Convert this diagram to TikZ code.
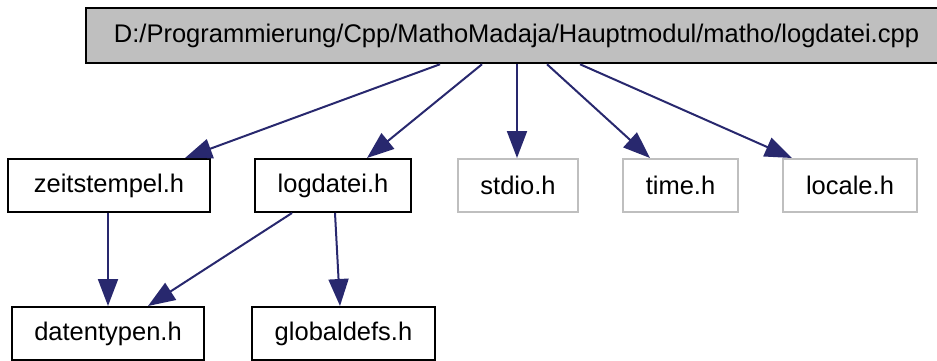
\documentclass[tikz,border=0pt]{standalone}
\usepackage{fontspec}
\setmainfont{Liberation Sans}
\usepackage{tikz}
\usetikzlibrary{arrows.meta,positioning}
\definecolor{depblue}{RGB}{40,40,110}
\definecolor{boxgray}{RGB}{191,191,191}

\begin{document}
\begin{tikzpicture}[x=1pt, y=-1pt,
  file/.style={draw=black, line width=2pt, inner sep=0pt, minimum height=53pt,
               font=\fontsize{25.5}{30}\selectfont},
  sysfile/.style={file, draw=boxgray},
  main/.style={file, fill=boxgray, line width=2.5pt, minimum height=55pt},
  dep/.style={-{Triangle[length=27pt, width=20pt]}, line width=2pt, depblue}]
  \useasboundingbox (0,0) rectangle (937,360);
  \clip (0,0) rectangle (937,360);
  % source file
  \node[main, minimum width=861pt] (cpp) at (516.5,35.5)
    {D:/Programmierung/Cpp/MathoMadaja/Hauptmodul/matho/logdatei.cpp};
  % direct includes
  \node[file, minimum width=202pt] (zeit) at (109,185.5) {zeitstempel.h};
  \node[file, minimum width=156pt] (logh) at (333,185.5) {logdatei.h};
  \node[sysfile, minimum width=120pt] (stdio) at (518,185.5) {stdio.h};
  \node[sysfile, minimum width=115pt] (time) at (680.5,185.5) {time.h};
  \node[sysfile, minimum width=134pt] (locale) at (850,185.5) {locale.h};
  % indirect includes
  \node[file, minimum width=192pt] (daten) at (108,333.5) {datentypen.h};
  \node[file, minimum width=183pt] (global) at (343.5,333.5) {globaldefs.h};
  % edges
  \draw[dep] ([xshift=-76.5pt]cpp.south) -- ([xshift=76pt]zeit.north);
  \draw[dep] ([xshift=-34.5pt]cpp.south) -- ([xshift=34pt]logh.north);
  \draw[dep] ([xshift=0.5pt]cpp.south) -- ([xshift=-1pt]stdio.north);
  \draw[dep] ([xshift=30.5pt]cpp.south) -- ([xshift=-30.5pt]time.north);
  \draw[dep] ([xshift=63.5pt]cpp.south) -- ([xshift=-58pt]locale.north);
  \draw[dep] ([xshift=-1pt]zeit.south) -- (daten.north);
  \draw[dep] ([xshift=-41pt]logh.south) -- ([xshift=40pt]daten.north);
  \draw[dep] ([xshift=2pt]logh.south) -- ([xshift=-3.5pt]global.north);
\end{tikzpicture}
\end{document}
